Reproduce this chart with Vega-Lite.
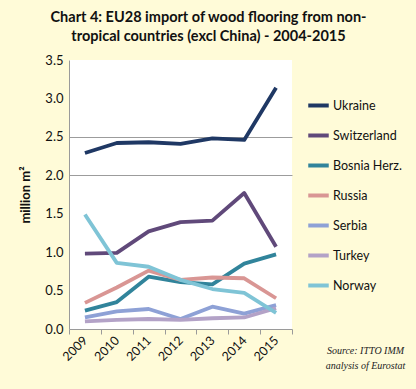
{
  "$schema": "https://vega.github.io/schema/vega-lite/v6.json",
  "autosize": {"type": "none"},
  "padding": {"left": 69, "top": 60, "right": 124, "bottom": 60},
  "width": 223,
  "height": 269,
  "background": "#FFFBD8",
  "config": {
    "view": {"fill": "white", "stroke": null},
    "font": "Lato"
  },
  "title": {
    "text": ["Chart 4: EU28 import of wood flooring from non-", "tropical countries  (excl China) - 2004-2015"],
    "fontSize": 14.5,
    "fontWeight": "bold",
    "font": "Lato",
    "color": "#111111",
    "lineHeight": 19,
    "offset": 10,
    "dx": 28,
    "anchor": "middle"
  },
  "datasets": {
    "series": [
      {"year": "2009", "country": "Ukraine", "value": 2.29},
      {"year": "2010", "country": "Ukraine", "value": 2.42},
      {"year": "2011", "country": "Ukraine", "value": 2.43},
      {"year": "2012", "country": "Ukraine", "value": 2.41},
      {"year": "2013", "country": "Ukraine", "value": 2.48},
      {"year": "2014", "country": "Ukraine", "value": 2.46},
      {"year": "2015", "country": "Ukraine", "value": 3.14},
      {"year": "2009", "country": "Switzerland", "value": 0.98},
      {"year": "2010", "country": "Switzerland", "value": 0.99},
      {"year": "2011", "country": "Switzerland", "value": 1.27},
      {"year": "2012", "country": "Switzerland", "value": 1.39},
      {"year": "2013", "country": "Switzerland", "value": 1.41},
      {"year": "2014", "country": "Switzerland", "value": 1.77},
      {"year": "2015", "country": "Switzerland", "value": 1.07},
      {"year": "2009", "country": "Bosnia Herz.", "value": 0.24},
      {"year": "2010", "country": "Bosnia Herz.", "value": 0.35},
      {"year": "2011", "country": "Bosnia Herz.", "value": 0.68},
      {"year": "2012", "country": "Bosnia Herz.", "value": 0.61},
      {"year": "2013", "country": "Bosnia Herz.", "value": 0.58},
      {"year": "2014", "country": "Bosnia Herz.", "value": 0.85},
      {"year": "2015", "country": "Bosnia Herz.", "value": 0.97},
      {"year": "2009", "country": "Russia", "value": 0.34},
      {"year": "2010", "country": "Russia", "value": 0.54},
      {"year": "2011", "country": "Russia", "value": 0.76},
      {"year": "2012", "country": "Russia", "value": 0.64},
      {"year": "2013", "country": "Russia", "value": 0.67},
      {"year": "2014", "country": "Russia", "value": 0.66},
      {"year": "2015", "country": "Russia", "value": 0.40},
      {"year": "2009", "country": "Serbia", "value": 0.15},
      {"year": "2010", "country": "Serbia", "value": 0.23},
      {"year": "2011", "country": "Serbia", "value": 0.26},
      {"year": "2012", "country": "Serbia", "value": 0.13},
      {"year": "2013", "country": "Serbia", "value": 0.29},
      {"year": "2014", "country": "Serbia", "value": 0.20},
      {"year": "2015", "country": "Serbia", "value": 0.31},
      {"year": "2009", "country": "Turkey", "value": 0.10},
      {"year": "2010", "country": "Turkey", "value": 0.12},
      {"year": "2011", "country": "Turkey", "value": 0.13},
      {"year": "2012", "country": "Turkey", "value": 0.12},
      {"year": "2013", "country": "Turkey", "value": 0.14},
      {"year": "2014", "country": "Turkey", "value": 0.15},
      {"year": "2015", "country": "Turkey", "value": 0.27},
      {"year": "2009", "country": "Norway", "value": 1.49},
      {"year": "2010", "country": "Norway", "value": 0.86},
      {"year": "2011", "country": "Norway", "value": 0.81},
      {"year": "2012", "country": "Norway", "value": 0.64},
      {"year": "2013", "country": "Norway", "value": 0.52},
      {"year": "2014", "country": "Norway", "value": 0.47},
      {"year": "2015", "country": "Norway", "value": 0.21}
    ],
    "grid": [{"level": 2}, {"level": 2.5}]
  },
  "resolve": {"axis": {"y": "independent"}},
  "layer": [
    {
      "data": {"name": "grid"},
      "mark": {"type": "rule", "color": "#A0A0A0", "strokeWidth": 1, "opacity": 0},
      "encoding": {
        "y": {
          "field": "level", "type": "quantitative", "scale": {"domain": [0, 3.5]},
          "axis": {"title": null, "values": [2, 2.5], "grid": true, "gridColor": "#9C9C9C", "gridOpacity": 1, "labels": false, "ticks": false, "domain": false, "orient": "right"}
        }
      }
    },
    {
      "data": {"name": "series"},
      "mark": {"type": "line", "strokeWidth": 3.8, "strokeJoin": "round", "strokeCap": "butt"},
      "encoding": {
        "x": {
          "field": "year", "type": "ordinal", "bandPosition": 0.5,
          "scale": {"type": "band", "paddingInner": 0, "paddingOuter": 0},
          "axis": {
            "title": ["Source: ITTO IMM", "analysis of Eurostat"],
            "titleFont": "Liberation Sans Narrow",
            "titleFontStyle": "italic",
            "titleFontWeight": "normal",
            "titleFontSize": 10,
            "titleColor": "#222222",
            "titleAnchor": "start",
            "titleAlign": "center",
            "titleBaseline": "top",
            "titleX": 296,
            "titleY": 16,
            "titleLineHeight": 15,
            "labelAngle": -45,
            "labelAlign": "right",
            "labelBaseline": "middle",
            "labelFontSize": 12.5,
            "labelColor": "#111111",
            "labelPadding": 4,
            "tickBand": "extent",
            "tickColor": "#9A9A9A",
            "tickSize": 5,
            "domainColor": "#9A9A9A",
            "grid": false
          }
        },
        "y": {
          "field": "value", "type": "quantitative",
          "scale": {"domain": [0, 3.5]},
          "axis": {
            "title": "million m²",
            "titleFontSize": 13,
            "titleFontWeight": "bold",
            "titleColor": "#111111",
            "titlePadding": 12,
            "values": [0, 0.5, 1, 1.5, 2, 2.5, 3, 3.5],
            "labelOverlap": false,
            "format": ".1f",
            "labelFontSize": 13,
            "labelColor": "#111111",
            "labelPadding": 6,
            "ticks": false,
            "grid": false,
            "domainColor": "#9A9A9A"
          }
        },
        "color": {
          "field": "country", "type": "nominal",
          "scale": {
            "domain": ["Ukraine", "Switzerland", "Bosnia Herz.", "Russia", "Serbia", "Turkey", "Norway"],
            "range": ["#1F3864", "#60497A", "#31849B", "#D99694", "#8EA1D6", "#B3A2C7", "#7FC4D6"]
          },
          "legend": {
            "title": null,
            "orient": "none",
            "legendX": 237,
            "legendY": 33,
            "symbolType": "stroke",
            "symbolSize": 420,
            "symbolStrokeWidth": 4,
            "labelFontSize": 12.5,
            "labelColor": "#111111",
            "labelOffset": 2,
            "rowPadding": 9,
            "labelLimit": 200
          }
        }
      }
    }
  ]
}
